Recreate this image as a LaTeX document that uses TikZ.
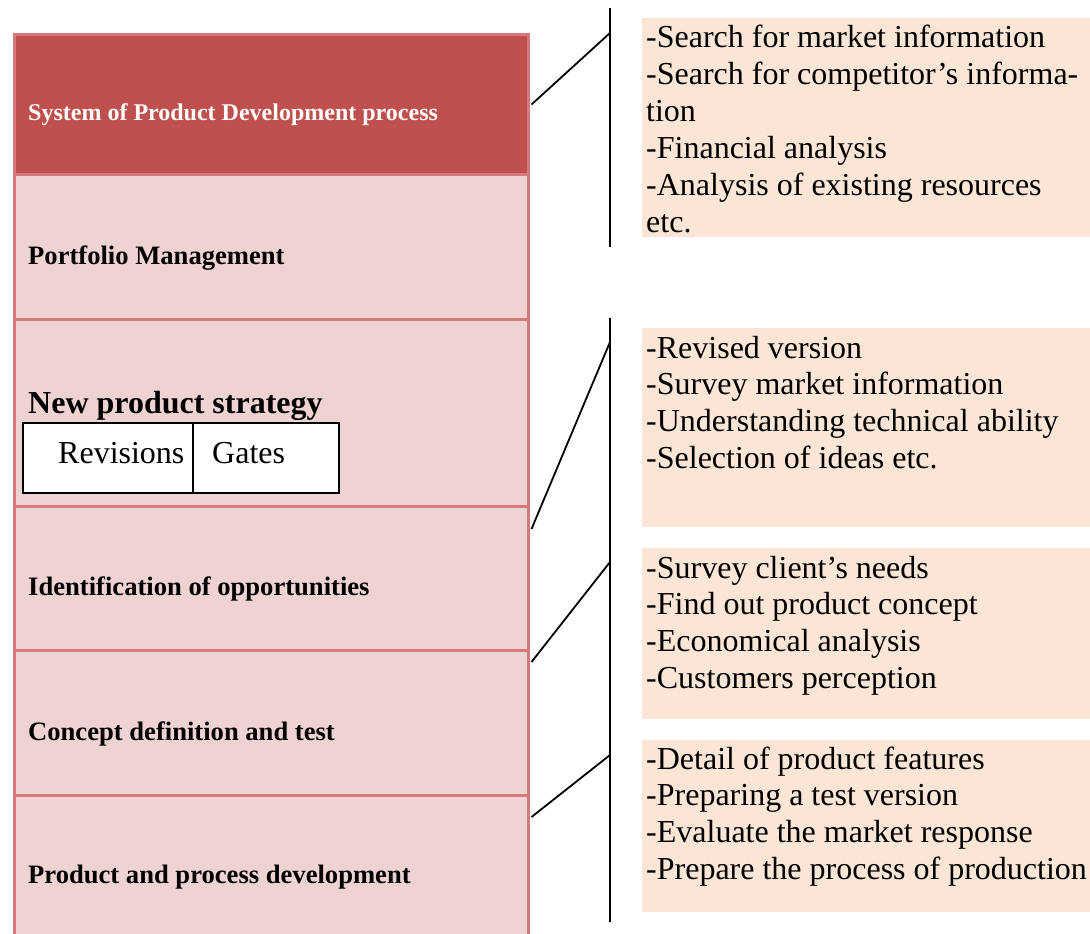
\documentclass[tikz,border=0pt]{standalone}
\usepackage{fontspec}
\setmainfont{Liberation Serif}
\usetikzlibrary{calc}
\definecolor{darkred}{HTML}{C0504D}
\definecolor{rowfill}{HTML}{EFD3D3}
\definecolor{rowborder}{HTML}{D47A7A}
\definecolor{peach}{HTML}{FBE5D6}
\begin{document}
\begin{tikzpicture}[x=1pt,y=-1pt,
  rowbox/.style={draw=rowborder, line width=3pt, fill=rowfill, anchor=north west, inner sep=0, minimum width=514pt},
  toprow/.style={rowbox, fill=darkred},
  peachbox/.style={fill=peach, draw=none, anchor=north west, inner sep=0, minimum width=448pt},
  rowtext/.style={anchor=base west, inner sep=0, font=\bfseries\fontsize{26.6}{30}\selectfont},
  item/.style={anchor=base west, inner sep=0, font=\fontsize{32}{37}\selectfont},
  smallbox/.style={draw=black, line width=1.8pt, fill=white, anchor=north west, inner sep=0, minimum height=70pt},
  conn/.style={draw=black, line width=1.8pt},
]
\useasboundingbox (0,0) rectangle (1090,934);
\clip (0,0) rectangle (1090,934);
% left column rows
\node[toprow, minimum height=140pt] (r1) at (13,33) {};
\node[rowbox, minimum height=145pt] (r2) at (13,173) {};
\node[rowbox, minimum height=187pt] (r3) at (13,318) {};
\node[rowbox, minimum height=144pt] (r4) at (13,505) {};
\node[rowbox, minimum height=145pt] (r5) at (13,649) {};
\node[rowbox, minimum height=160pt] (r6) at (13,794) {};
% row texts
\node[rowtext, text=white, font=\bfseries\fontsize{24}{28}\selectfont] (t1) at (28,120) {System of Product Development process};
\node[rowtext] (t2) at (28,264) {Portfolio Management};
\node[rowtext, font=\bfseries\fontsize{32}{36}\selectfont] (t3) at (28,413) {New product strategy};
\node[rowtext] (t4) at (28,595) {Identification of opportunities};
\node[rowtext] (t5) at (28,740) {Concept definition and test};
\node[rowtext] (t6) at (28,883) {Product and process development};
% revisions / gates
\node[smallbox, minimum width=170pt] (rev) at (22,422) {};
\node[smallbox, minimum width=146pt] (gat) at (192,422) {};
\node[item] (revt) at (58,463) {Revisions};
\node[item] (gatt) at (212,463) {Gates};
% right boxes
\node[peachbox, minimum height=219pt] (p1) at (642,18) {};
\node[peachbox, minimum height=199pt] (p2) at (642,328) {};
\node[peachbox, minimum height=171pt] (p3) at (642,548) {};
\node[peachbox, minimum height=172pt] (p4) at (642,740) {};
\foreach \t [count=\i] in {-Search for market information,-Search for competitor’s informa-,tion,-Financial analysis,-Analysis of existing resources,etc.}
  \node[item, name=a\i] at (646,{48+36.8*(\i-1)}) {\t};
\foreach \t [count=\i] in {-Revised version,-Survey market information,-Understanding technical ability,-Selection of ideas etc.}
  \node[item, name=b\i] at (646,{358+36.8*(\i-1)}) {\t};
\foreach \t [count=\i] in {-Survey client’s needs,-Find out product concept,-Economical analysis,-Customers perception}
  \node[item, name=c\i] at (646,{578+36.8*(\i-1)}) {\t};
\foreach \t [count=\i] in {-Detail of product features,-Preparing a test version,-Evaluate the market response,-Prepare the process of production}
  \node[item, name=d\i] at (646,{769+36.8*(\i-1)}) {\t};
% vertical lines
\coordinate (v1t) at (610,8);
\coordinate (v1b) at (610,247);
\coordinate (v2t) at (610,318);
\coordinate (v2b) at (610,922);
\draw[conn] (v1t) -- (v1b);
\draw[conn] (v2t) -- (v2b);
% connectors
\coordinate (k1) at (610,33);
\coordinate (k2) at (610,342);
\coordinate (k3) at (610,562);
\coordinate (k4) at (610,755);
\draw[conn] ([xshift=1.5pt]r1.east) -- (k1);
\draw[conn] ([xshift=1.5pt,yshift=-24pt]r4.north east) -- (k2);
\draw[conn] ([xshift=1.5pt,yshift=-13pt]r5.north east) -- (k3);
\draw[conn] ([xshift=1.5pt,yshift=-23pt]r6.north east) -- (k4);
\end{tikzpicture}
\end{document}
